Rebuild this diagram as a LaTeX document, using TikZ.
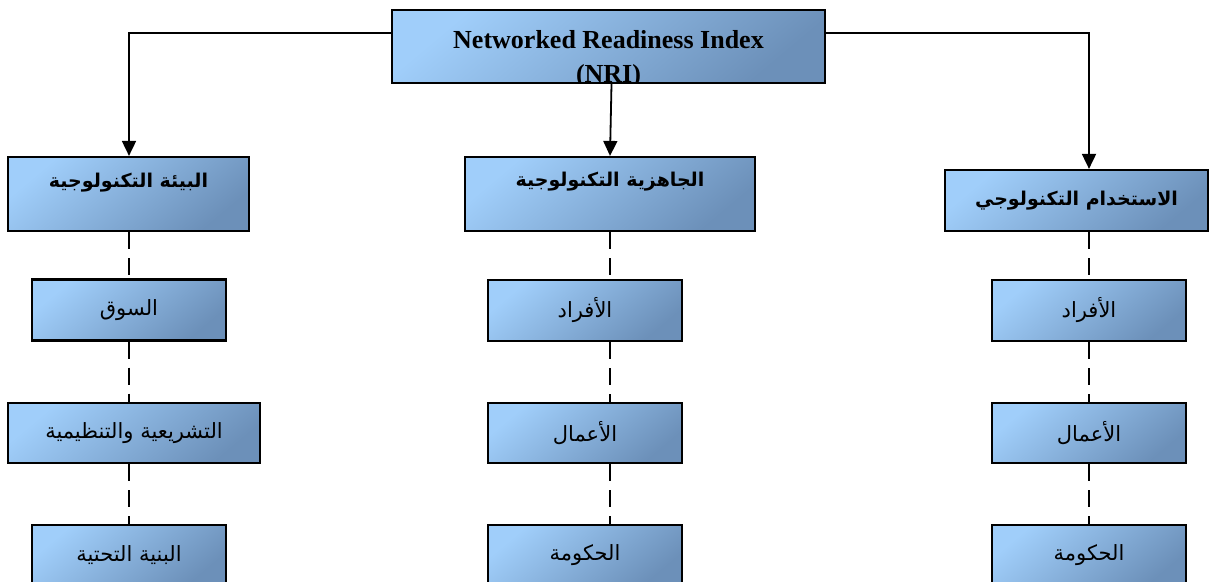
\documentclass[tikz,border=0pt]{standalone}
\usepackage{fontspec}
\setmainfont{Liberation Serif}
\newfontfamily\arabicfont[Script=Arabic]{DejaVu Sans}
\TeXXeTstate=1
\usetikzlibrary{arrows.meta,calc}
\definecolor{boxlight}{HTML}{A0CEFA}
\definecolor{boxdark}{HTML}{6C90B9}
\tikzset{
  box/.style={draw=black, line width=2.2pt, top color=boxlight, bottom color=boxdark,
    shading angle=40, inner sep=0pt, rectangle},
  small/.style={box, minimum width=194pt, minimum height=61pt, font=\arabicfont\fontsize{21}{24}\selectfont},
  headlab/.style={font=\arabicfont\bfseries\fontsize{19}{22}\selectfont},
  conn/.style={line width=1.8pt, -{Triangle[length=15pt,width=14pt]}},
  dashconn/.style={line width=1.8pt, dash pattern=on 17pt off 9pt},
}
\begin{document}
\begin{tikzpicture}[x=1pt,y=-1pt]
\useasboundingbox (0,0) rectangle (1209,581);
\clip (0,0) rectangle (1209,581);
% top
\node[box, minimum width=433pt, minimum height=73pt,
  path picture={\node[font=\bfseries\fontsize{26}{34}\selectfont, align=center, yshift=-13pt]
    at (path picture bounding box.center) {Networked Readiness Index\\(NRI)};}]
  (top) at (608.5,46.5) {};
% level 1
\node[box, minimum width=241pt, minimum height=74pt,
  label={[headlab, yshift=11.5pt]center:\beginR البيئة التكنولوجية\endR}] (l1) at (128.5,194) {};
\node[box, minimum width=290pt, minimum height=74pt,
  label={[headlab, yshift=12pt]center:\beginR الجاهزية التكنولوجية\endR}] (m1) at (610,194) {};
\node[box, minimum width=263pt, minimum height=61pt, headlab] (r1) at (1076.5,200.5) {\beginR الاستخدام التكنولوجي\endR};
% level 2-4
\node[small] (l2) at (129,310) {\beginR السوق\endR};
\node[small, minimum width=252pt, minimum height=60pt] (l3) at (134,433) {\beginR التشريعية والتنظيمية\endR};
\node[small, minimum height=60pt] (l4) at (129,555) {\beginR البنية التحتية\endR};
\node[small] (m2) at (585,310.5) {\beginR الأفراد\endR};
\node[small, minimum height=60pt] (m3) at (585,433) {\beginR الأعمال\endR};
\node[small, minimum height=60pt] (m4) at (585,555) {\beginR الحكومة\endR};
\node[small] (r2) at (1089,310.5) {\beginR الأفراد\endR};
\node[small, minimum height=60pt] (r3) at (1089,433) {\beginR الأعمال\endR};
\node[small, minimum height=60pt] (r4) at (1089,555) {\beginR الحكومة\endR};
% connectors from top
\coordinate (tl) at ($(top.north west)!0.32!(top.south west)$);
\coordinate (tr) at ($(top.north east)!0.32!(top.south east)$);
\draw[conn] (tl) -| (l2 |- l1.north);
\draw[conn] (tr) -| (r2 |- r1.north);
\draw[conn] ([xshift=3pt]top.south) -- (m1.north);
% dashed
\draw[dashconn] (l2 |- l1.south) -- (l2.north);
\draw[dashconn] (l2.south) -- (l2.south |- l3.north);
\draw[dashconn] (l2.south |- l3.south) -- (l4.north);
\draw[dashconn] (m1.south) -- (m1.south |- m2.north);
\draw[dashconn] (m1.south |- m2.south) -- (m1.south |- m3.north);
\draw[dashconn] (m1.south |- m3.south) -- (m1.south |- m4.north);
\draw[dashconn] (r2 |- r1.south) -- (r2.north);
\draw[dashconn] (r2.south) -- (r3.north);
\draw[dashconn] (r3.south) -- (r4.north);
\end{tikzpicture}
\end{document}
